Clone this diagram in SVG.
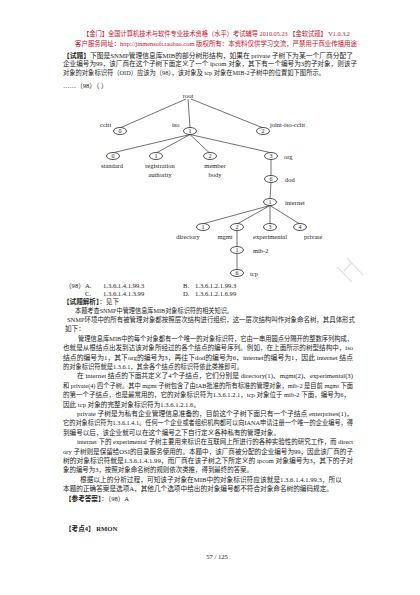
<svg xmlns="http://www.w3.org/2000/svg" width="420" height="595" viewBox="0 0 420 595">
<style>
.red{font-family:'Liberation Serif','Noto Sans CJK SC',serif;font-size:6.4px;fill:#c8102e}
.tx{font-family:'Liberation Serif','Noto Sans CJK SC',serif;font-size:6.6px;fill:#222}
.b{font-weight:bold}
.lbl{font-family:'Liberation Serif',serif;font-size:6.5px;fill:#222}
.num{font-family:'Liberation Serif',serif;font-size:6px;fill:#222;text-anchor:middle}
.nd{fill:#fff;stroke:#222;stroke-width:0.8}
.ln{stroke:#333;stroke-width:0.7;fill:none}
</style>
<rect width="420" height="595" fill="#fff"/>
<g id="header">
<text class="red" x="83" y="36" textLength="267" lengthAdjust="spacingAndGlyphs">【金门】全国计算机技术与软件专业技术资格（水平）考试辅导 2010.05.23 【金软试题】 V1.0.3.2</text>
<text class="red" x="75" y="45.5" textLength="282" lengthAdjust="spacingAndGlyphs">客户服务网址：http://jinmensoft.taobao.com  版权所有：本资料仅供学习交流，严禁用于商业传播用途</text>
</g>
<g id="question">
<text class="tx" x="63" y="57.5" textLength="290" lengthAdjust="spacingAndGlyphs"><tspan class="b">【试题】</tspan>下图是SNMP管理信息库MIB的部分树形结构，如果在 private 子树下为某一个厂商分配了</text>
<text class="tx" x="63" y="66" textLength="294" lengthAdjust="spacingAndGlyphs">企业编号为99，该厂商在这个子树下面定义了一个 ipcom 对象，其下有一个编号为3的子对象，则该子</text>
<text class="tx" x="63" y="74.5" textLength="262" lengthAdjust="spacingAndGlyphs">对象的对象标识符（OID）应该为（98），该对象及 tcp 对象在MIB-2子树中的位置如下图所示。</text>
<text class="tx" x="63" y="87.5">……（98）（  ）</text>
</g>
<g id="connectors">
<path class="ln" d="M186 99 L121 127.5 M188 99 L190 127.5 M191 99 L262 127.5"/>
<path class="ln" d="M190 134.5 L114 152.5 M190 134.5 L157 152.5 M190 134.5 L209 152.5 M190 134.5 L270 152.5"/>
<path class="ln" d="M271 159.5 L271 175.5 M271 182.5 L270 198.5"/>
<path class="ln" d="M270 205.5 L204 223.5 M270 205.5 L238 223.5 M270 205.5 L270 223.5 M270 205.5 L299 223.5"/>
<path class="ln" d="M237 230.5 L237 246.5 M237 253.5 L237 269.5"/>
</g>
<g id="root"><text class="lbl" x="188" y="98" text-anchor="middle">root</text></g>
<g id="ccitt"><ellipse class="nd" cx="120" cy="131" rx="6.5" ry="3.5"/><text class="num" x="120" y="133.2">0</text><text class="lbl" x="100" y="126.5">ccitt</text></g>
<g id="iso"><ellipse class="nd" cx="190" cy="131" rx="6.5" ry="3.5"/><text class="num" x="190" y="133.2">1</text><text class="lbl" x="172" y="126.5">iso</text></g>
<g id="joint-iso-ccitt"><ellipse class="nd" cx="263" cy="131" rx="6.5" ry="3.5"/><text class="num" x="263" y="133.2">2</text><text class="lbl" x="270" y="126.5">joint-iso-ccitt</text></g>
<g id="standard"><ellipse class="nd" cx="113" cy="156" rx="6.5" ry="3.5"/><text class="num" x="113" y="158.2">0</text><text class="lbl" x="112" y="167.5" text-anchor="middle">standard</text></g>
<g id="registration-authority"><ellipse class="nd" cx="156" cy="156" rx="6.5" ry="3.5"/><text class="num" x="156" y="158.2">1</text><text class="lbl" x="160" y="167.5" text-anchor="middle">registration</text><text class="lbl" x="160" y="177" text-anchor="middle">authority</text></g>
<g id="member-body"><ellipse class="nd" cx="210" cy="156" rx="6.5" ry="3.5"/><text class="num" x="210" y="158.2">2</text><text class="lbl" x="215" y="167.5" text-anchor="middle">member</text><text class="lbl" x="215" y="177" text-anchor="middle">body</text></g>
<g id="org"><ellipse class="nd" cx="271" cy="156" rx="6.5" ry="3.5"/><text class="num" x="271" y="158.2">3</text><text class="lbl" x="284" y="158.5">org</text></g>
<g id="dod"><ellipse class="nd" cx="271" cy="179" rx="6.5" ry="3.5"/><text class="num" x="271" y="181.2">6</text><text class="lbl" x="285" y="181.5">dod</text></g>
<g id="internet"><ellipse class="nd" cx="270" cy="202" rx="6.5" ry="3.5"/><text class="num" x="270" y="204.2">1</text><text class="lbl" x="285" y="204.5">internet</text></g>
<g id="directory"><ellipse class="nd" cx="203" cy="227" rx="6.5" ry="3.5"/><text class="num" x="203" y="229.2">1</text><text class="lbl" x="188" y="238.5" text-anchor="middle">directory</text></g>
<g id="mgmt"><ellipse class="nd" cx="237" cy="227" rx="6.5" ry="3.5"/><text class="num" x="237" y="229.2">2</text><text class="lbl" x="225" y="238.5" text-anchor="middle">mgmt</text></g>
<g id="experimental"><ellipse class="nd" cx="270" cy="227" rx="6.5" ry="3.5"/><text class="num" x="270" y="229.2">3</text><text class="lbl" x="270" y="238.5" text-anchor="middle">experimental</text></g>
<g id="private"><ellipse class="nd" cx="300" cy="227" rx="6.5" ry="3.5"/><text class="num" x="300" y="229.2">4</text><text class="lbl" x="313" y="238.5" text-anchor="middle">private</text></g>
<g id="mib-2"><ellipse class="nd" cx="237" cy="250" rx="6.5" ry="3.5"/><text class="num" x="237" y="252.2">1</text><text class="lbl" x="253" y="252.5">mib-2</text></g>
<g id="tcp"><ellipse class="nd" cx="237" cy="273" rx="6.5" ry="3.5"/><text class="num" x="237" y="275.2">6</text><text class="lbl" x="250" y="275.5">tcp</text></g>
<g id="watermark" stroke="#e4e4e4" stroke-width="1.4" fill="none">
<path d="M347 258 L363 275 M337 267 L352 282 M352 262 L344 271"/>
</g>
<g id="options">
<text class="tx" x="65" y="287.5">（98）</text>
<text class="tx" x="85" y="287.5">A.</text><text class="tx" x="103" y="287.5">1.3.6.1.4.1.99.3</text>
<text class="tx" x="183" y="287.5">B.</text><text class="tx" x="195" y="287.5">1.3.6.1.2.1.99.3</text>
<text class="tx" x="85" y="296">C.</text><text class="tx" x="103" y="296">1.3.6.1.4.1.3.99</text>
<text class="tx" x="183" y="296">D.</text><text class="tx" x="195" y="296">1.3.6.1.2.1.6.99</text>
</g>
<g id="analysis">
<text class="tx" x="63" y="304"><tspan class="b">【试题解析】</tspan>：见下</text>
<text class="tx" x="75" y="312.5" textLength="158" lengthAdjust="spacingAndGlyphs">本题考查SNMP中管理信息库MIB对象标识符的相关知识。</text>
<text class="tx" x="67" y="322" textLength="288" lengthAdjust="spacingAndGlyphs">SNMP环境中的所有被管理对象都按照层次结构进行组织，这一层次结构叫作对象命名树，其具体形式</text>
<text class="tx" x="65" y="331.3">如下：</text>
<text class="tx" x="78" y="340.7" textLength="275" lengthAdjust="spacingAndGlyphs">管理信息库MIB中的每个对象都有一个唯一的对象标识符，它由一串用圆点分隔开的整数序列构成，</text>
<text class="tx" x="63" y="350.1" textLength="290" lengthAdjust="spacingAndGlyphs">也就是从根结点出发到达该对象所经过的各个结点的编号序列。例如，在上面所示的树型结构中，iso</text>
<text class="tx" x="63" y="359.5" textLength="290" lengthAdjust="spacingAndGlyphs">结点的编号为1，其下org的编号为3，再往下dod的编号为6，internet的编号为1，因此 internet 结点</text>
<text class="tx" x="63" y="368.9" textLength="180" lengthAdjust="spacingAndGlyphs">的对象标识符就是1.3.6.1，其余各个结点的标识符依此类推即可。</text>
<text class="tx" x="77" y="378.3" textLength="276" lengthAdjust="spacingAndGlyphs">在 internet 结点的下面共定义了4个子结点，它们分别是 directory(1)、mgmt(2)、experimental(3)</text>
<text class="tx" x="63" y="387.7" textLength="290" lengthAdjust="spacingAndGlyphs">和 private(4) 四个子树。其中 mgmt 子树包含了由IAB批准的所有标准的管理对象，mib-2 是目前 mgmt 下面</text>
<text class="tx" x="63" y="397.1" textLength="287" lengthAdjust="spacingAndGlyphs">的第一个子结点，也是最常用的，它的对象标识符为1.3.6.1.2.1，tcp 对象位于 mib-2 下面，编号为6，</text>
<text class="tx" x="63" y="406.5" textLength="137" lengthAdjust="spacingAndGlyphs">因此 tcp 对象的完整对象标识符为1.3.6.1.2.1.6。</text>
<text class="tx" x="77" y="415.9" textLength="276" lengthAdjust="spacingAndGlyphs">private 子树是为私有企业管理信息准备的，目前这个子树下面只有一个子结点 enterprises(1)，</text>
<text class="tx" x="63" y="425.3" textLength="290" lengthAdjust="spacingAndGlyphs">它的对象标识符为1.3.6.1.4.1。任何一个企业或者组织机构都可以向IANA申请注册一个唯一的企业编号，得</text>
<text class="tx" x="63" y="434.7" textLength="217" lengthAdjust="spacingAndGlyphs">到编号以后，该企业就可以在这个编号之下自行定义各种私有的管理对象。</text>
<text class="tx" x="77" y="444.1" textLength="276" lengthAdjust="spacingAndGlyphs">internet 下的 experimental 子树主要用来标识在互联网上所进行的各种实验性的研究工作，而 direct</text>
<text class="tx" x="63" y="453.5" textLength="290" lengthAdjust="spacingAndGlyphs">ory 子树则是保留给OSI的目录服务使用的。本题中，该厂商被分配的企业编号为99，因此该厂商的子</text>
<text class="tx" x="63" y="462.9" textLength="290" lengthAdjust="spacingAndGlyphs">树的对象标识符就是1.3.6.1.4.1.99，而厂商在该子树之下所定义的 ipcom 对象编号为3，其下的子对</text>
<text class="tx" x="63" y="472.3" textLength="190" lengthAdjust="spacingAndGlyphs">象的编号为3，按照对象命名树的规则依次类推，得到最终的答案。</text>
<text class="tx" x="80" y="481.7" textLength="262" lengthAdjust="spacingAndGlyphs">根据以上的分析过程，可知该子对象在MIB中的对象标识符应该就是1.3.6.1.4.1.99.3，所以</text>
<text class="tx" x="63" y="491.1" textLength="270" lengthAdjust="spacingAndGlyphs">本题的正确答案是选项A，其他几个选项中给出的对象编号都不符合对象命名树的编码规定。</text>
<text class="tx" x="65" y="500.8"><tspan class="b">【参考答案】</tspan>：（98）A</text>
</g>
<g id="footer">
<text class="tx" x="65" y="530.5"><tspan class="b">【考点4】</tspan> <tspan class="b">RMON</tspan></text>
<text class="tx" x="217" y="558.5" text-anchor="middle" font-size="6">57 / 125</text>
</g>
</svg>
